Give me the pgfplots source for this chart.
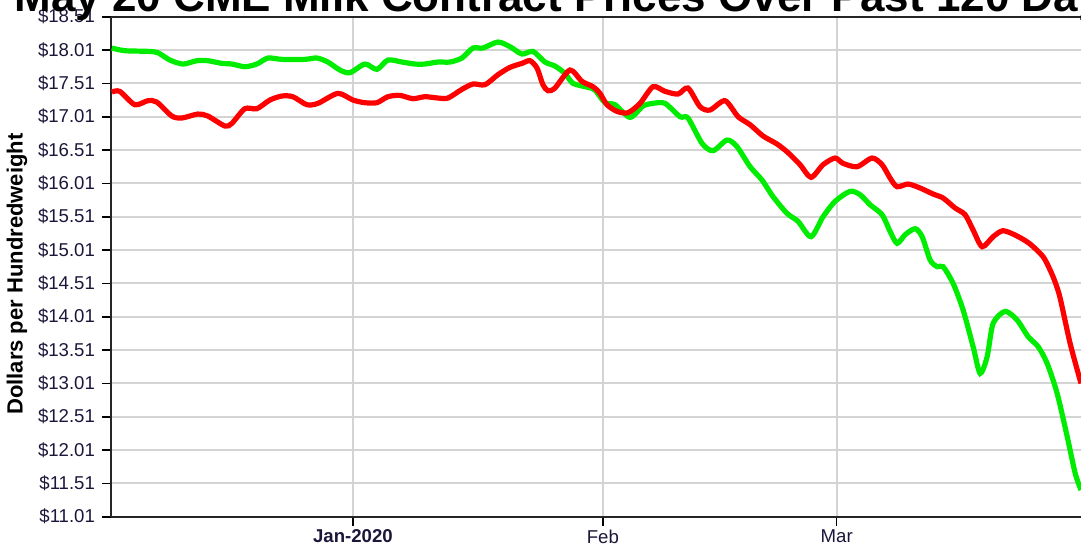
\documentclass[border=0pt]{standalone}
\usepackage{pgfplots}
\pgfplotsset{compat=1.18}
\usepackage{fontspec}
\setmainfont{Liberation Sans}
\definecolor{gridc}{RGB}{212,212,212}
\definecolor{lgreen}{RGB}{0,236,0}
\definecolor{lred}{RGB}{255,0,0}
\definecolor{lbl}{RGB}{28,22,58}
\begin{document}
\begin{tikzpicture}
\begin{axis}[
  at={(0,0)}, anchor=south west,
  scale only axis, width=485pt, height=250pt,
  xmin=0, xmax=120.3, ymin=11.01, ymax=18.51,
  axis x line=box, axis y line=left,
  axis line style={-, line width=1.1pt, black!85},
  xtick={30,61,90},
  xticklabels={\textbf{Jan-2020},Feb,Mar},
  ytick={11.01,11.51,12.01,12.51,13.01,13.51,14.01,14.51,15.01,15.51,16.01,16.51,17.01,17.51,18.01,18.51},
  yticklabels={\$11.01,\$11.51,\$12.01,\$12.51,\$13.01,\$13.51,\$14.01,\$14.51,\$15.01,\$15.51,\$16.01,\$16.51,\$17.01,\$17.51,\$18.01,\$18.51},
  tick align=outside, major tick length=4.5pt,
  xtick pos=bottom, ytick pos=left,
  tick style={black, line width=0.8pt},
  grid=major, major grid style={gridc, line width=0.9pt},
  ticklabel style={font=\fontsize{9.3}{10}\selectfont, text=lbl},
  xticklabel style={yshift=1.5pt},
  ylabel={Dollars per Hundredweight},
  every axis y label/.style={at={(rel axis cs:0,0.485)}, rotate=90, anchor=center, yshift=47pt, font=\fontsize{11}{12}\selectfont\bfseries},
  clip=true,
]
\addplot[lgreen, line width=2.6pt, smooth, tension=0.45] coordinates {
(0.10,18.04) (1.71,18.00) (4.57,17.99) (5.81,17.97) (7.30,17.86) (8.91,17.80)
(10.65,17.85) (12.01,17.85) (13.75,17.81) (14.99,17.80) (16.60,17.76) (18.09,17.80)
(19.45,17.89) (21.19,17.87) (24.04,17.87) (25.53,17.89) (26.90,17.83) (28.39,17.71)
(29.63,17.67) (31.49,17.80) (32.98,17.72) (34.34,17.86) (36.08,17.83) (37.69,17.80)
(38.93,17.80) (40.55,17.83) (42.04,17.83) (43.52,17.89) (44.89,18.04) (46.13,18.04)
(47.99,18.13) (49.48,18.06) (50.97,17.95) (52.33,17.99) (53.82,17.83) (55.06,17.77)
(56.30,17.66) (57.30,17.51) (59.16,17.45) (60.02,17.41) (61.27,17.22) (62.51,17.19)
(64.37,17.00) (65.98,17.17) (67.22,17.21) (68.71,17.21) (70.57,17.01) (71.56,16.99)
(73.30,16.61) (74.67,16.50) (76.40,16.66) (77.64,16.56) (79.26,16.26) (80.74,16.06)
(82.11,15.81) (83.84,15.56) (85.21,15.44) (86.82,15.21) (88.31,15.51) (89.80,15.74)
(91.66,15.89) (92.90,15.84) (94.14,15.69) (95.63,15.54) (96.62,15.29) (97.49,15.11)
(98.49,15.24) (99.73,15.33) (100.60,15.21) (101.59,14.86) (102.46,14.76) (103.20,14.76)
(104.44,14.51) (105.68,14.11) (106.92,13.56) (107.79,13.16) (108.66,13.41) (109.40,13.91)
(110.89,14.09) (112.38,13.96) (113.75,13.71) (114.99,13.56) (116.10,13.31) (117.34,12.86)
(118.59,12.21) (119.58,11.66) (120.30,11.41)
};
\addplot[lred, line width=2.6pt, smooth, tension=0.45] coordinates {
(0.10,17.38) (1.09,17.39) (2.95,17.19) (4.57,17.25) (5.68,17.23) (7.54,17.02)
(8.78,16.99) (10.77,17.05) (12.01,17.02) (14.12,16.87) (14.99,16.91) (16.60,17.13)
(18.09,17.13) (19.70,17.26) (21.19,17.32) (22.55,17.31) (24.29,17.19) (25.66,17.21)
(28.14,17.36) (30.00,17.26) (31.49,17.22) (32.98,17.22) (34.34,17.31) (35.83,17.33)
(37.44,17.28) (38.93,17.31) (40.55,17.29) (41.79,17.29) (43.52,17.42) (44.89,17.50)
(46.38,17.49) (47.99,17.64) (49.48,17.75) (50.97,17.81) (51.96,17.85) (52.83,17.74)
(53.57,17.49) (54.19,17.40) (55.06,17.44) (56.92,17.71) (58.41,17.54) (59.78,17.46)
(60.64,17.36) (61.51,17.19) (62.75,17.09) (64.12,17.07) (65.61,17.21) (67.22,17.46)
(68.71,17.39) (70.32,17.35) (71.56,17.44) (73.05,17.16) (74.29,17.11) (76.15,17.25)
(77.77,17.01) (79.26,16.89) (80.87,16.72) (82.61,16.60) (83.97,16.47) (85.46,16.29)
(86.82,16.10) (88.31,16.29) (89.80,16.39) (90.79,16.31) (92.53,16.26) (94.39,16.39)
(95.63,16.29) (96.62,16.09) (97.49,15.96) (98.86,16.00) (100.35,15.94) (101.96,15.85)
(103.20,15.79) (104.69,15.64) (105.93,15.54) (106.92,15.31) (108.04,15.06) (109.40,15.21)
(110.64,15.30) (112.38,15.22) (113.99,15.10) (115.60,14.91) (116.47,14.71) (117.09,14.53)
(117.71,14.29) (118.95,13.61) (120.30,13.01)
};
\end{axis}
\node[anchor=base west, font=\fontsize{22}{24}\selectfont\bfseries, inner sep=0pt] at (-48.5pt,252.6pt) {May 20 CME Milk Contract Prices Over Past 120 Days};
\pgfresetboundingbox
\path[use as bounding box] (-55.5pt,-14.65pt) rectangle (485pt,258.35pt);
\end{tikzpicture}
\end{document}
